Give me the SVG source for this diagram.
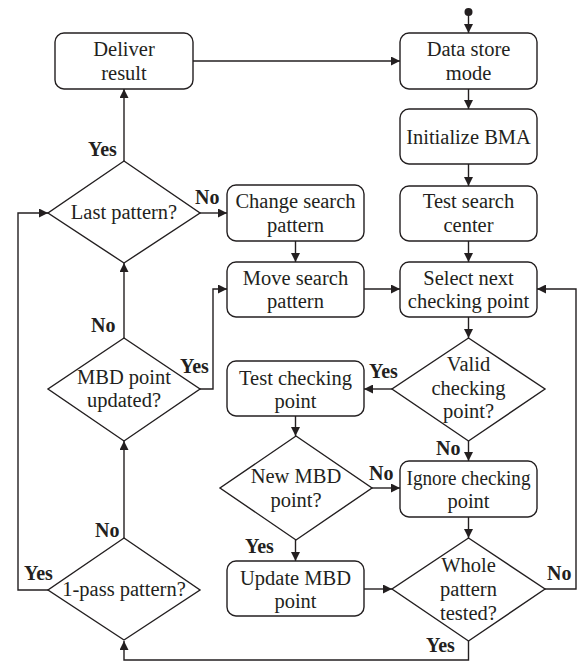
<svg xmlns="http://www.w3.org/2000/svg" width="586" height="662" viewBox="0 0 586 662">
  <defs>
    <marker id="arr" viewBox="0 0 10 10" refX="10" refY="5" markerWidth="9" markerHeight="9" markerUnits="userSpaceOnUse" orient="auto">
      <path d="M0,0 L10,5 L0,10 z" fill="#231f20"/>
    </marker>
    <style>
      .box { fill: #ffffff; stroke: #231f20; stroke-width: 1.4; }
      .dia { fill: #ffffff; stroke: #231f20; stroke-width: 1.4; }
      .ln { fill: none; stroke: #231f20; stroke-width: 1.4; marker-end: url(#arr); }
      text { font-family: 'Liberation Serif', 'Times New Roman', Times, serif; fill: #231f20; }
      .t { font-size: 20.5px; text-anchor: middle; }
      .lb { font-size: 20px; font-weight: bold; }
    </style>
  </defs>
  <rect width="586" height="662" fill="#ffffff"/>

  <!-- connectors -->
  <g id="connectors">
    <circle cx="468.5" cy="12" r="4" fill="#231f20"/>
    <line class="ln" x1="468.5" y1="14" x2="468.5" y2="33"/>
    <line class="ln" x1="468.5" y1="89" x2="468.5" y2="109"/>
    <line class="ln" x1="468.5" y1="164" x2="468.5" y2="186"/>
    <line class="ln" x1="468.5" y1="241" x2="468.5" y2="262"/>
    <line class="ln" x1="468.5" y1="317" x2="468.5" y2="338"/>
    <line class="ln" x1="468.5" y1="441" x2="468.5" y2="461"/>
    <line class="ln" x1="468.5" y1="517" x2="468.5" y2="538"/>
    <!-- Deliver result to Data store mode -->
    <line class="ln" x1="193" y1="61" x2="400" y2="61"/>
    <!-- Last pattern? -->
    <line class="ln" x1="124" y1="161" x2="124" y2="89"/>
    <line class="ln" x1="200" y1="213" x2="227" y2="213"/>
    <line class="ln" x1="295.5" y1="241" x2="295.5" y2="262"/>
    <line class="ln" x1="364" y1="289" x2="400" y2="289"/>
    <!-- MBD point updated? -->
    <line class="ln" x1="124" y1="338" x2="124" y2="263"/>
    <polyline class="ln" points="200,389 213,389 213,289 227,289"/>
    <!-- 1-pass pattern? -->
    <line class="ln" x1="124" y1="538" x2="124" y2="441"/>
    <polyline class="ln" points="48,590 18,590 18,213 48,213"/>
    <!-- checking point column -->
    <line class="ln" x1="392" y1="389" x2="364" y2="389"/>
    <line class="ln" x1="295.5" y1="416" x2="295.5" y2="436"/>
    <line class="ln" x1="372" y1="488" x2="400" y2="488"/>
    <line class="ln" x1="295.5" y1="540" x2="295.5" y2="561"/>
    <line class="ln" x1="364" y1="589" x2="392" y2="589"/>
    <!-- Whole pattern tested? -->
    <polyline class="ln" points="545,589 576,589 576,289 537,289"/>
    <polyline class="ln" points="468.5,641 468.5,660 124,660 124,641"/>
  </g>

  <!-- process boxes -->
  <g id="deliver-result">
    <rect class="box" x="55" y="33" width="138" height="56" rx="9"/>
    <text class="t" x="124" y="56">Deliver</text>
    <text class="t" x="124" y="80">result</text>
  </g>
  <g id="data-store-mode">
    <rect class="box" x="400" y="33" width="137" height="56" rx="9"/>
    <text class="t" x="468.5" y="56">Data store</text>
    <text class="t" x="468.5" y="80">mode</text>
  </g>
  <g id="initialize-bma">
    <rect class="box" x="400" y="109" width="137" height="55" rx="9"/>
    <text class="t" x="468.5" y="144">Initialize BMA</text>
  </g>
  <g id="test-search-center">
    <rect class="box" x="400" y="186" width="137" height="55" rx="9"/>
    <text class="t" x="468.5" y="208">Test search</text>
    <text class="t" x="468.5" y="232">center</text>
  </g>
  <g id="select-next-checking-point">
    <rect class="box" x="400" y="262" width="137" height="55" rx="9"/>
    <text class="t" x="468.5" y="285">Select next</text>
    <text class="t" x="468.5" y="308">checking point</text>
  </g>
  <g id="change-search-pattern">
    <rect class="box" x="227" y="185" width="137" height="56" rx="9"/>
    <text class="t" x="295.5" y="208">Change search</text>
    <text class="t" x="295.5" y="232">pattern</text>
  </g>
  <g id="move-search-pattern">
    <rect class="box" x="227" y="262" width="137" height="55" rx="9"/>
    <text class="t" x="295.5" y="285">Move search</text>
    <text class="t" x="295.5" y="308">pattern</text>
  </g>
  <g id="test-checking-point">
    <rect class="box" x="227" y="361" width="137" height="55" rx="9"/>
    <text class="t" x="295.5" y="385">Test checking</text>
    <text class="t" x="295.5" y="408">point</text>
  </g>
  <g id="ignore-checking-point">
    <rect class="box" x="400" y="461" width="137" height="56" rx="9"/>
    <text class="t" x="468.5" y="485" textLength="124" lengthAdjust="spacingAndGlyphs">Ignore checking</text>
    <text class="t" x="468.5" y="508">point</text>
  </g>
  <g id="update-mbd-point">
    <rect class="box" x="227" y="561" width="137" height="55" rx="9"/>
    <text class="t" x="295.5" y="585">Update MBD</text>
    <text class="t" x="295.5" y="608">point</text>
  </g>

  <!-- decisions -->
  <g id="last-pattern">
    <polygon class="dia" points="124,161 200,213 124,263 48,213"/>
    <text class="t" x="124" y="219">Last pattern?</text>
  </g>
  <g id="mbd-point-updated">
    <polygon class="dia" points="124,338 200,389 124,441 48,389"/>
    <text class="t" x="124" y="384">MBD point</text>
    <text class="t" x="124" y="407">updated?</text>
  </g>
  <g id="one-pass-pattern">
    <polygon class="dia" points="124,538 200,590 124,640 48,590"/>
    <text class="t" x="124" y="596">1-pass pattern?</text>
  </g>
  <g id="valid-checking-point">
    <polygon class="dia" points="468.5,338 545,389 468.5,441 392,389"/>
    <text class="t" x="468.5" y="371">Valid</text>
    <text class="t" x="468.5" y="395">checking</text>
    <text class="t" x="468.5" y="418">point?</text>
  </g>
  <g id="new-mbd-point">
    <polygon class="dia" points="296,436 372,488 296,540 220,488"/>
    <text class="t" x="296" y="483">New MBD</text>
    <text class="t" x="296" y="507">point?</text>
  </g>
  <g id="whole-pattern-tested">
    <polygon class="dia" points="468.5,538 545,589 468.5,641 392,589"/>
    <text class="t" x="468.5" y="572">Whole</text>
    <text class="t" x="468.5" y="596">pattern</text>
    <text class="t" x="468.5" y="620">tested?</text>
  </g>

  <!-- branch labels -->
  <g id="labels">
    <text class="lb" x="88" y="156">Yes</text>
    <text class="lb" x="195" y="204">No</text>
    <text class="lb" x="91" y="332">No</text>
    <text class="lb" x="180" y="373">Yes</text>
    <text class="lb" x="95" y="537">No</text>
    <text class="lb" x="24" y="580">Yes</text>
    <text class="lb" x="245" y="553">Yes</text>
    <text class="lb" x="369" y="378">Yes</text>
    <text class="lb" x="436" y="455">No</text>
    <text class="lb" x="369" y="480">No</text>
    <text class="lb" x="547" y="580">No</text>
    <text class="lb" x="426" y="652">Yes</text>
  </g>
</svg>
